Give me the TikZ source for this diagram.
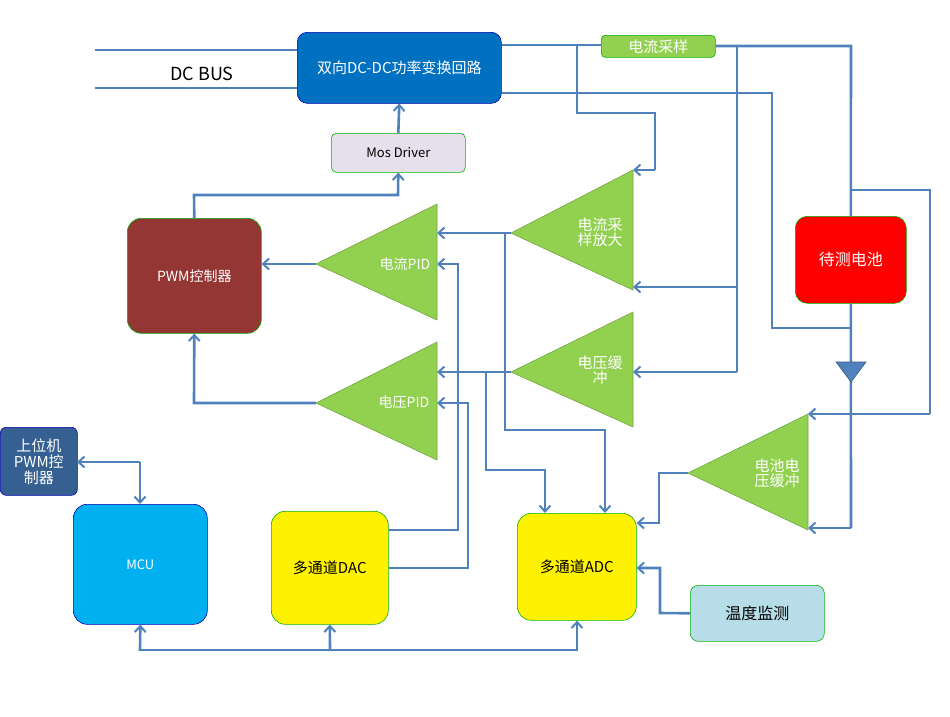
\documentclass[tikz,border=0pt]{standalone}
\usepackage{fontspec}
\setmainfont{Noto Sans CJK SC}
\usetikzlibrary{arrows.meta}
\definecolor{wire}{HTML}{4F81BD}
\definecolor{tri}{HTML}{92D050}
\tikzset{
  wireline/.style={draw=wire,line width=2.6pt},
  arr/.style={wireline,-{Straight Barb[length=6pt,width=11pt,line width=2pt]}},
  boxa/.style={draw=#1!70!black,rounded corners=10pt,line width=0.6pt,inner sep=0pt,anchor=north west},
  tribox/.style={fill=tri,draw=tri!80!black,line width=0.6pt},
  wt/.style={text=white,font=\fontsize{14}{16}\selectfont,align=center},
  bt/.style={text=black,font=\fontsize{14}{16}\selectfont,align=center}
}
\begin{document}
\begin{tikzpicture}[x=1pt,y=-1pt]
\useasboundingbox (0,0) rectangle (950,716);
% boxes
\node[boxa=blue,fill={rgb,255:red,0;green,112;blue,192},minimum width=204pt,minimum height=71pt,wt,font=\fontsize{15}{17}\selectfont] (dc) at (297,32) {双向DC-DC功率变换回路};
\node[boxa=green,fill={rgb,255:red,230;green,224;blue,236},minimum width=134pt,minimum height=39pt,bt,rounded corners=5pt,font=\fontsize{13}{15}\selectfont] (mos) at (331,133) {Mos Driver};
\node[boxa=green,fill={rgb,255:red,148;green,54;blue,52},minimum width=134pt,minimum height=115pt,wt,rounded corners=14pt] (pwm) at (127,218) {PWM控制器};
\node[boxa=green,fill=tri,minimum width=114pt,minimum height=22pt,wt,rounded corners=4pt,font=\fontsize{15}{17}\selectfont] (cs) at (601,35) {电流采样};
\node[boxa=green,fill=red,minimum width=111pt,minimum height=87pt,wt,rounded corners=12pt,font=\fontsize{16}{18}\selectfont] (bat) at (795,216) {待测电池};
\node[boxa=blue,fill={rgb,255:red,54;green,96;blue,146},minimum width=77pt,minimum height=68pt,wt,rounded corners=6pt,font=\fontsize{15}{16}\selectfont] (host) at (0,427) {上位机\\PWM控\\制器};
\node[boxa=blue,fill={rgb,255:red,0;green,176;blue,240},minimum width=134pt,minimum height=120pt,wt,rounded corners=14pt,font=\fontsize{13}{15}\selectfont] (mcu) at (73,504) {MCU};
\node[boxa=green,fill=yellow,minimum width=117pt,minimum height=113pt,bt,rounded corners=14pt,font=\fontsize{15}{17}\selectfont] (dac) at (271,511) {多通道DAC};
\node[boxa=green,fill=yellow,minimum width=119pt,minimum height=107pt,bt,rounded corners=14pt,font=\fontsize{15}{17}\selectfont] (adc) at (517,513) {多通道ADC};
\node[boxa=green,fill={rgb,255:red,183;green,222;blue,232},minimum width=134pt,minimum height=56pt,bt,rounded corners=8pt,font=\fontsize{16}{18}\selectfont] (temp) at (690,585) {温度监测};
\node[font=\fontsize{18}{20}\selectfont] (bus) at (202,74) {DC BUS};
% triangles
\draw[tribox] (316,264) -- (437,204) -- (437,320) -- cycle;
\draw[tribox] (316,403) -- (437,342) -- (437,460) -- cycle;
\draw[tribox] (511,233) -- (633,170) -- (633,290) -- cycle;
\draw[tribox] (511,372) -- (633,312) -- (633,427) -- cycle;
\draw[tribox] (688,473) -- (808,414) -- (808,530) -- cycle;
\node[wt] (ipid) at (405,264) {电流PID};
\node[wt] (vpid) at (404,402) {电压PID};
\node[wt,font=\fontsize{15}{15}\selectfont] (iamp) at (600,232) {电流采\\样放大};
\node[wt,font=\fontsize{15}{15}\selectfont] (vbuf) at (600,370) {电压缓\\冲};
\node[wt,font=\fontsize{15}{15}\selectfont] (bbuf) at (777,473) {电池电\\压缓冲};
\coordinate (ipidA) at (316,264); \coordinate (vpidA) at (316,403);
\coordinate (iampA) at (511,233); \coordinate (vbufA) at (511,372);
\coordinate (bbufA) at (688,473);
% DC bus
\coordinate (b1) at (95,50); \coordinate (b2) at (95,88);
\draw[wireline] (b1) -- (dc.west |- b1);
\draw[wireline] (b2) -- (dc.west |- b2);
% driver path
\draw[arr] (mos.north) -- (dc.south);
\draw[arr] (pwm.north) -- (194,195) -- (398,195) -- (mos.south);
\draw[arr] (ipidA) -- (pwm.east |- ipidA);
\draw[arr] (vpidA) -- (194,403) -- (pwm.south);
% amplifier outputs
\draw[arr] (iampA) -- (437,233);
\draw[wireline] (505,233) -- (505,430) -- (605,430);
\draw[arr] (605,429) -- (adc.north -| 605,0);
\draw[arr] (vbufA) -- (437,372);
\draw[wireline] (486,372) -- (486,470) -- (545,470);
\draw[arr] (545,469) -- (adc.north -| 545,0);
% current sensing
\draw[wireline] (dc.east |- 0,45) -- (cs.west |- 0,45);
\draw[wireline] (cs.east |- 0,46) -- (851,46) -- (bat.north);
\draw[wireline] (577,45) -- (577,113) -- (655,113) -- (655,170);
\draw[arr] (655,170) -- (633,170);
\draw[wireline] (737,46) -- (737,372);
\draw[arr] (737,287) -- (633,287);
\draw[arr] (737,372) -- (633,372);
\draw[wireline] (dc.east |- 0,93) -- (772,93) -- (772,328) -- (851,328);
% battery
\draw[wireline] (bat.south) -- (851,528);
\draw[fill=wire,draw=wire!70!black,line width=0.6pt] (836,362) -- (866,362) -- (851,382) -- cycle;
\draw[wireline] (851,190) -- (930,190) -- (930,414);
\draw[arr] (930,414) -- (808,414);
\draw[arr] (851,528) -- (808,528);
\draw[arr] (bbufA) -- (659,473) -- (659,523) -- (adc.east |- 0,523);
\draw[arr] (temp.west) -- (660,613) -- (660,568) -- (adc.east |- 0,568);
% DAC outputs
\draw[arr] (dac.east |- 0,530) -- (458,530) -- (458,264) -- (437,264);
\draw[arr] (dac.east |- 0,568) -- (468,568) -- (468,403) -- (437,403);
% host / MCU
\draw[arr] (140,462) -- (140,504);
\draw[arr] (140,462) -- (77,462);
% bottom bus
\draw[wireline] (140,650) -- (577,650);
\draw[arr] (140,651) -- (mcu.south);
\draw[arr] (330,651) -- (dac.south);
\draw[arr] (577,651) -- (adc.south -| 577,0);
\end{tikzpicture}
\end{document}
